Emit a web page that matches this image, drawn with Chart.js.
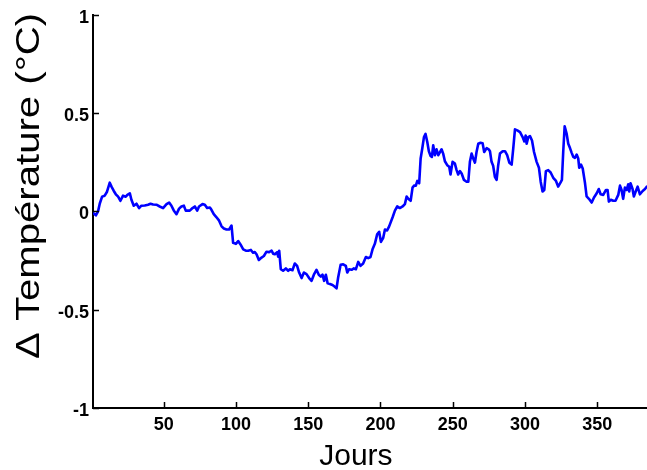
<!DOCTYPE html>
<html>
<head>
<meta charset="utf-8">
<script src="https://cdn.jsdelivr.net/npm/chart.js@4/dist/chart.umd.min.js"></script>
<style>
  html, body { margin: 0; padding: 0; background: #fff; }
  #wrap { width: 647px; height: 470px; }
</style>
</head>
<body>
<div id="wrap"><canvas id="chart" width="647" height="470"></canvas></div>
<script>
// Values
const days = [
  1.5, 3, 4.5, 5.7, 7.3, 9.1, 10.7, 12.6, 13.8, 15.4, 16.8, 18.4, 20, 21.8, 23.7, 24.8, 26.5, 27.6, 29.2, 31.1,
  32.9, 34.5, 36.8, 39.1, 40.8, 42.6, 44.9, 47.2, 49.5, 51.9, 53.7, 55.3, 56.9, 58.8, 60.6, 62.2, 63.9, 65.2, 66.8,
  68, 69.9, 71.5, 73.1, 74.4, 76.8, 78.4, 80, 81.9, 83, 84.6, 86.5, 88.3, 90, 91.6, 93.4, 95.2, 96.9, 98, 99.9,
  101.5, 103.1, 105, 106.8, 108.4, 110.3, 111.8, 113, 114.2, 115.8, 117.7, 119.3, 121.1, 122.9, 124.6, 125.7, 126.9,
  128.5, 129.2, 129.9, 131, 132.6, 134.5, 136.1,
  137.3, 139.1, 140.7, 142.3, 143.7, 145.4, 147, 148.8, 150.6, 152.3, 153.9, 155.7, 157.3, 158.7, 159.9, 161, 162.2,
  163.4, 165, 166.8, 168.4, 169.6, 170.7, 172.4, 174.2, 176, 177, 178.3, 180, 181.6, 183, 184.6, 186.2, 188, 189.9,
  191.5, 193.1, 194.5, 196.1, 197.7, 199.1, 200.3, 201.9, 203.1, 204.6, 206,
  208.4, 210, 211.6, 213.4, 215.3, 216.9, 218.1, 219.2, 220.9, 222.2, 223.2, 224.5, 225.5, 226.8, 227.8, 228.9,
  230.1, 231.2, 232.4, 233.5, 234.7, 235.6, 236.5, 237.7, 238.8, 240, 241.2, 242.3, 243.4, 244.6, 246.2, 247.6,
  248.5, 249.9, 251.5, 252.7, 253.8, 255, 256.2, 257.8, 259.6, 260.8, 261.9, 263.1, 264.2, 265.4, 266.5, 267.7,
  269.3, 270.7, 271.8, 273.5, 274.9,
  275.8, 276.9, 278, 279.2, 280.4, 281.5, 282.7, 284.6, 286.2, 287.7, 289.2, 290.8, 291.9, 293.1, 294.7, 296.6,
  298.4, 299.6, 300.5, 301.2, 302.3, 303.5, 304.9, 306.3, 308.1, 309.7, 310.9, 312.2, 313.4, 314.5, 316.1, 317.8,
  319.6, 321.5, 323, 324.7, 325.6, 326.5, 327.5,
  328.9, 330, 331.2, 332.3, 333.5, 334.6, 335.8, 336.9, 337.6, 338.8, 340, 341.6, 342.7, 344.3, 346.2, 347.8, 349.7,
  351.1, 352.4, 354.2, 356.1, 357.2, 358.1, 359.5, 361.1, 362.7, 364.6, 365.8, 366.9, 368, 369.2, 370.4, 371.5,
  372.2, 373.1, 374.5, 375.4, 376.8, 378, 379.6, 381.5, 383.1, 384.4
];
const deltaT = [
  -0.01, -0.02, 0.00, 0.04, 0.075, 0.08, 0.10, 0.146, 0.126, 0.104, 0.087, 0.075, 0.054, 0.08, 0.075, 0.084, 0.092, 0.059, 0.029, 0.039,
  0.017, 0.029, 0.030, 0.034, 0.039, 0.035, 0.034, 0.025, 0.017, 0.037, 0.045, 0.029, 0.005, -0.014, 0.014, 0.025, 0.029, 0.004, 0.004,
  0.004, 0.017, 0.025, 0.004, 0.025, 0.037, 0.034, 0.017, 0.02, 0.008, -0.014, -0.03, -0.047, -0.076, -0.087, -0.092, -0.092, -0.072, -0.16, -0.165,
  -0.151, -0.168, -0.193, -0.2, -0.2, -0.196, -0.21, -0.207, -0.218, -0.247, -0.235, -0.227, -0.205, -0.207, -0.2, -0.215, -0.218,
  -0.207, -0.23, -0.2, -0.294, -0.302, -0.29, -0.302,
  -0.294, -0.299, -0.265, -0.277, -0.311, -0.339, -0.311, -0.319, -0.339, -0.353, -0.322, -0.297, -0.322, -0.332, -0.322, -0.353, -0.322,
  -0.366, -0.369, -0.374, -0.383, -0.391, -0.336, -0.272, -0.269, -0.277, -0.311, -0.294, -0.297, -0.29, -0.294, -0.257, -0.277, -0.265, -0.232,
  -0.238, -0.232, -0.193, -0.165, -0.117, -0.104, -0.155, -0.134, -0.092, -0.097, -0.076,
  -0.03, 0.004, 0.025, 0.017, 0.025, 0.037, 0.076, 0.064, 0.054, 0.121, 0.131, 0.131, 0.155, 0.143, 0.269, 0.319,
  0.378, 0.394, 0.353, 0.306, 0.282, 0.277, 0.336, 0.286, 0.316, 0.286, 0.302, 0.316, 0.294, 0.255, 0.235, 0.227,
  0.188, 0.252, 0.243, 0.21, 0.188, 0.205, 0.193, 0.16, 0.151, 0.151, 0.252, 0.294, 0.269, 0.248, 0.302, 0.344,
  0.349, 0.347, 0.302, 0.322, 0.316,
  0.306, 0.252, 0.232, 0.176, 0.16, 0.235, 0.294, 0.306, 0.306, 0.286, 0.248, 0.238, 0.319, 0.417, 0.412, 0.403,
  0.378, 0.356, 0.386, 0.344, 0.378, 0.383, 0.361, 0.302, 0.252, 0.222, 0.151, 0.101, 0.109, 0.205, 0.21, 0.198,
  0.171, 0.155, 0.126, 0.148, 0.16, 0.302, 0.433,
  0.394, 0.344, 0.322, 0.299, 0.277, 0.272, 0.289, 0.269, 0.222, 0.238, 0.218, 0.143, 0.076, 0.064, 0.045, 0.071, 0.092,
  0.114, 0.087, 0.084, 0.109, 0.109, 0.05, 0.059, 0.054, 0.054, 0.084, 0.131, 0.109, 0.064, 0.121, 0.109, 0.138,
  0.101, 0.143, 0.114, 0.076, 0.104, 0.126, 0.087, 0.104, 0.114, 0.126
];

const xTicks = [50, 100, 150, 200, 250, 300, 350];
const yTicks = [-1, -0.5, 0, 0.5, 1];
const xTitle = 'Jours';
const yTitle = '\u0394 Temp\u00e9rature (\u00b0C)';

const points = days.map((d, i) => ({ x: d, y: deltaT[i] }));

// Draws the inward tick marks and the two axis titles (MATLAB look)
const axisExtras = {
  id: 'axisExtras',
  afterDraw(chart) {
    const ctx = chart.ctx;
    const xs = chart.scales.x;
    const ys = chart.scales.y;
    const area = chart.chartArea;
    ctx.save();
    ctx.strokeStyle = '#000';
    ctx.lineWidth = 1.5;
    ctx.beginPath();
    xTicks.forEach(v => {
      const px = Math.round(xs.getPixelForValue(v)) + 0.5;
      ctx.moveTo(px, area.bottom);
      ctx.lineTo(px, area.bottom - 6);
    });
    yTicks.forEach(v => {
      const py = Math.round(ys.getPixelForValue(v)) + 0.5;
      ctx.moveTo(area.left, py);
      ctx.lineTo(area.left + 6, py);
    });
    ctx.stroke();

    ctx.fillStyle = '#000';
    ctx.textAlign = 'center';
    ctx.textBaseline = 'alphabetic';
    ctx.font = '30px "Liberation Sans"';
    ctx.fillText(xTitle, xs.getPixelForValue(183), 465);

    // y title, rotated and stretched to the length seen in the reference
    ctx.translate(39, 186);
    ctx.rotate(-Math.PI / 2);
    ctx.font = '33px "Liberation Sans"';
    const w = ctx.measureText(yTitle).width;
    ctx.scale(346 / w, 1);
    ctx.fillText(yTitle, 0, 0);
    ctx.restore();
  }
};

const tickFont = { family: '"Liberation Sans"', size: 18, weight: 'bold' };

new Chart(document.getElementById('chart').getContext('2d'), {
  type: 'line',
  data: {
    datasets: [{
      data: points,
      borderColor: '#0000ff',
      borderWidth: 2.6,
      borderJoinStyle: 'round',
      borderCapStyle: 'round',
      pointRadius: 0,
      tension: 0,
      fill: false
    }]
  },
  options: {
    responsive: false,
    animation: false,
    layout: { padding: { top: 11, right: 0, left: 0, bottom: 0 } },
    plugins: { legend: { display: false }, tooltip: { enabled: false } },
    scales: {
      x: {
        type: 'linear',
        min: 1,
        max: 384.5,
        afterBuildTicks: s => { s.ticks = xTicks.map(v => ({ value: v })); },
        afterFit: s => { s.height = 62; },
        grid: { display: false, drawTicks: false },
        border: { display: true, color: '#000', width: 2 },
        ticks: { color: '#000', font: tickFont, padding: 6, maxRotation: 0, callback: v => String(v) }
      },
      y: {
        type: 'linear',
        min: -1,
        max: 1,
        afterBuildTicks: s => { s.ticks = yTicks.map(v => ({ value: v })); },
        afterFit: s => { s.width = 93; },
        grid: { display: false, drawTicks: false },
        border: { display: true, color: '#000', width: 2 },
        ticks: { color: '#000', font: tickFont, padding: 4, labelOffset: 3, callback: v => String(v) }
      }
    }
  },
  plugins: [axisExtras]
});
</script>
</body>
</html>
